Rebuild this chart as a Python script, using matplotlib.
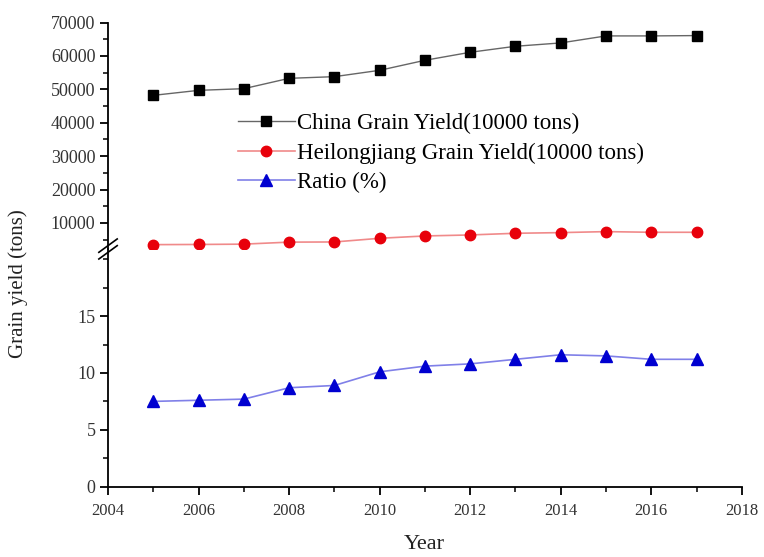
import numpy as np
import matplotlib.pyplot as plt
from matplotlib.lines import Line2D
from matplotlib.ticker import MultipleLocator

plt.rcParams['font.family'] = ['Liberation Serif', 'DejaVu Serif']

years = [2005, 2006, 2007, 2008, 2009, 2010, 2011, 2012, 2013, 2014, 2015, 2016, 2017]
china = [48200, 49700, 50200, 53300, 53800, 55700, 58700, 61100, 62900, 63900, 66000, 66000, 66100]
heilongjiang = [3500, 3550, 3650, 4250, 4300, 5400, 6100, 6400, 6900, 7100, 7400, 7200, 7200]
ratio = [7.5, 7.6, 7.7, 8.7, 8.9, 10.1, 10.6, 10.8, 11.2, 11.6, 11.5, 11.2, 11.2]

fig = plt.figure(figsize=(7.64, 5.57), dpi=100)
left, right = 0.1414, 0.971
brk = 0.553
ax_top = fig.add_axes([left, brk, right - left, 0.9595 - brk])
ax_bot = fig.add_axes([left, 0.1262, right - left, brk - 0.1262])

tick_col = '#333333'
for ax in (ax_top, ax_bot):
    ax.set_xlim(2004, 2018)
    ax.spines['top'].set_visible(False)
    ax.spines['right'].set_visible(False)
    ax.spines['left'].set_linewidth(1.3)
    ax.spines['bottom'].set_linewidth(1.3)
    ax.xaxis.set_major_locator(MultipleLocator(2))
    ax.xaxis.set_minor_locator(MultipleLocator(1))
    ax.tick_params(which='major', length=6, width=1.3, direction='out',
                   labelcolor=tick_col)
    ax.tick_params(axis='y', which='major', labelsize=13, pad=3)
    ax.tick_params(axis='x', which='major', labelsize=12, pad=6)
    ax.tick_params(which='minor', length=3.5, width=1.1, direction='out')
    ax.patch.set_alpha(0)

# upper segment: absolute yields
ax_top.spines['bottom'].set_visible(False)
ax_top.tick_params(axis='x', which='both', bottom=False, labelbottom=False)
ax_top.set_ylim(2200, 70000)
ax_top.set_yticks(np.arange(10000, 70001, 10000))
ax_top.yaxis.set_minor_locator(MultipleLocator(5000))

l1, = ax_top.plot(years, china, '-', color='#666666', lw=1.0,
                  marker='s', ms=7, mfc='black', mec='black',
                  label='China Grain Yield(10000 tons)')
l2, = ax_top.plot(years, heilongjiang, '-', color='#f08a8a', lw=1.2,
                  marker='o', ms=7.5, mfc='#e8000b', mec='#e8000b',
                  label='Heilongjiang Grain Yield(10000 tons)')

# lower segment: ratio
ax_bot.set_ylim(0, 20.9)
ax_bot.set_yticks([0, 5, 10, 15])
ax_bot.yaxis.set_minor_locator(MultipleLocator(2.5))
l3, = ax_bot.plot(years, ratio, '-', color='#8080e8', lw=1.2,
                  marker='^', ms=8, mfc='#0000d0', mec='#0000d0',
                  label='Ratio (%)')

ax_top.legend(handles=[l1, l2, l3], loc='upper left',
              bbox_to_anchor=(0.19, 0.64), frameon=False, fontsize=16.5,
              handlelength=2.5, handletextpad=0.1, labelspacing=0.35,
              borderaxespad=0)

# axis break marks on the left spine
for dy in (-0.006, 0.006):
    fig.add_artist(Line2D([left - 0.012, left + 0.012],
                          [brk + dy - 0.012, brk + dy + 0.012],
                          color='black', lw=1.2, transform=fig.transFigure))

fig.text(0.024, 0.49, 'Grain yield (tons)', rotation=90, ha='center',
         va='center', fontsize=15, color='#222222')
fig.text(0.555, 0.022, 'Year', ha='center', va='center', fontsize=16,
         color='#222222')

plt.savefig('out.png', dpi=100)
